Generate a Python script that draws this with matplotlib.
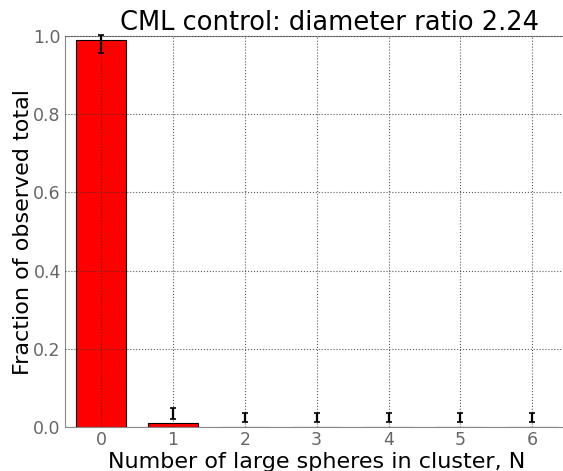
import matplotlib
matplotlib.use("Agg")
import matplotlib.pyplot as plt
import numpy as np

n_values = [0, 1, 2, 3, 4, 5, 6]
fractions = [0.99, 0.009, 0.0, 0.0, 0.0, 0.0, 0.0]
err_centers = [0.98, 0.034, 0.025, 0.025, 0.025, 0.025, 0.025]
err_half = [0.023, 0.014, 0.011, 0.011, 0.011, 0.011, 0.011]
yticks = [0.0, 0.2, 0.4, 0.6, 0.8, 1.0]

fig = plt.figure(figsize=(5.63, 4.71), dpi=100)
ax = fig.add_axes([0.1155, 0.0934, 0.894, 0.830])

ax.bar(n_values, fractions, width=0.7, color="#ff0000", edgecolor="black",
       linewidth=0.8, zorder=1)
ax.errorbar(n_values, err_centers, yerr=err_half, fmt="none", ecolor="black",
            elinewidth=1.6, capsize=2.5, capthick=1.2, zorder=3, clip_on=False)

ax.set_xlim(-0.5, 6.5)
ax.set_ylim(0, 1.0)
ax.set_xticks(n_values)
ax.set_yticks(yticks)
ax.set_yticklabels([f"{v:.1f}" for v in yticks])
ax.grid(True, linestyle=":", color="#333333", linewidth=0.8, alpha=0.8, zorder=2)
ax.set_axisbelow(False)

for s in ax.spines.values():
    s.set_color("#888888")
    s.set_linewidth(0.8)
ax.tick_params(axis="both", colors="#666666", labelsize=12.5, length=0, pad=3)

ax.set_xlabel("Number of large spheres in cluster, N", fontsize=16, labelpad=2)
ax.set_ylabel("Fraction of observed total", fontsize=16, labelpad=0)
ax.set_title("CML control: diameter ratio 2.24", fontsize=18.5, pad=2, x=0.525)

fig.savefig("out.png", dpi=100)
